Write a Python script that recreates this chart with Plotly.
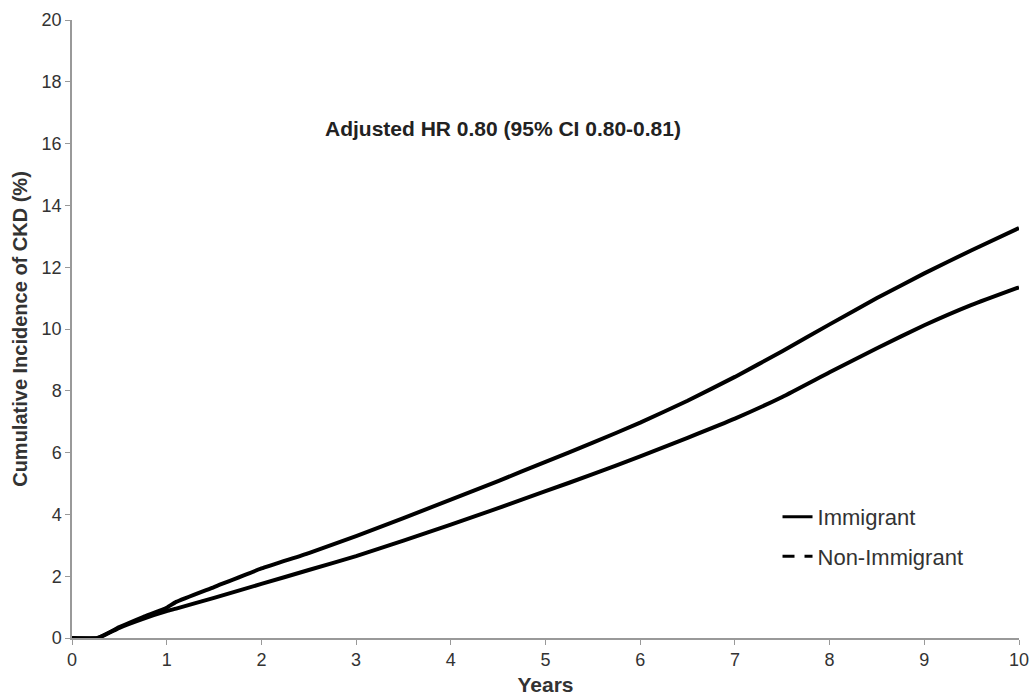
import plotly.graph_objects as go

years = [0, 0.27, 0.5, 0.75, 1.0, 1.1, 1.5, 2, 2.5, 3, 3.5, 4, 4.5, 5, 5.5, 6,
         6.5, 7, 7.5, 8, 8.5, 9, 9.5, 10]
non_immigrant = [0, 0, 0.35, 0.68, 0.98, 1.17, 1.65, 2.25, 2.75, 3.3, 3.88, 4.48,
                 5.08, 5.7, 6.32, 6.97, 7.68, 8.45, 9.28, 10.15, 11.0, 11.8, 12.55, 13.27]
immigrant = [0, 0, 0.33, 0.62, 0.87, 0.95, 1.3, 1.75, 2.2, 2.65, 3.15, 3.67,
             4.2, 4.75, 5.3, 5.88, 6.48, 7.1, 7.8, 8.6, 9.38, 10.12, 10.78, 11.35]
x_ticks = list(range(0, 11))
y_ticks = list(range(0, 21, 2))

font_family = "Liberation Sans, Arial, sans-serif"
txt = "#333333"

fig = go.Figure()
fig.add_trace(go.Scatter(x=years, y=non_immigrant, mode="lines",
                         line=dict(color="black", width=4, shape="spline", smoothing=0.4),
                         showlegend=False))
fig.add_trace(go.Scatter(x=years, y=immigrant, mode="lines",
                         line=dict(color="black", width=4, shape="spline", smoothing=0.4),
                         showlegend=False))
# legend entries
fig.add_trace(go.Scatter(x=[None], y=[None], mode="lines", name="Immigrant",
                         legendgroup="a",
                         line=dict(color="black", width=3)))
fig.add_trace(go.Scatter(x=[None], y=[None], mode="lines", name="Non-Immigrant",
                         legendgroup="b",
                         line=dict(color="black", width=3, dash="12px,10px")))

fig.add_annotation(text="<b>Adjusted HR 0.80 (95% CI 0.80-0.81)</b>",
                   x=0.455, y=0.825, xref="paper", yref="paper",
                   xanchor="center", yanchor="middle",
                   showarrow=False, font=dict(size=21, color="#222", family=font_family))

fig.update_layout(
    width=1031, height=696,
    margin=dict(l=72, r=12, t=20, b=58, autoexpand=False),
    paper_bgcolor="white", plot_bgcolor="white",
    font=dict(family=font_family, color=txt, size=18),
    legend=dict(x=0.745, y=0.23, xanchor="left", yanchor="top",
                font=dict(size=22, color=txt), traceorder="grouped",
                tracegroupgap=8, bgcolor="rgba(0,0,0,0)"),
    xaxis=dict(range=[0, 10], tickvals=x_ticks, showgrid=False, zeroline=False,
               automargin=False,
               showline=True, linecolor="#999", linewidth=1.5,
               ticks="outside", ticklen=5, tickcolor="#999",
               tickfont=dict(size=18, color=txt),
               title=dict(text="<b>Years</b>", font=dict(size=21, color=txt), standoff=10)),
    yaxis=dict(range=[0, 20], tickvals=y_ticks, showgrid=False, zeroline=False,
               automargin=False,
               showline=True, linecolor="#999", linewidth=1.5,
               ticks="outside", ticklen=5, tickcolor="#999",
               tickfont=dict(size=18, color=txt),
               title=dict(text="<b>Cumulative Incidence of CKD (%)</b>",
                          font=dict(size=20, color=txt), standoff=9)),
)

fig.write_html(
    "out.html",
    config={"displayModeBar": False},
    post_script="document.body.style.margin='0';document.body.style.overflow='hidden';",
)
